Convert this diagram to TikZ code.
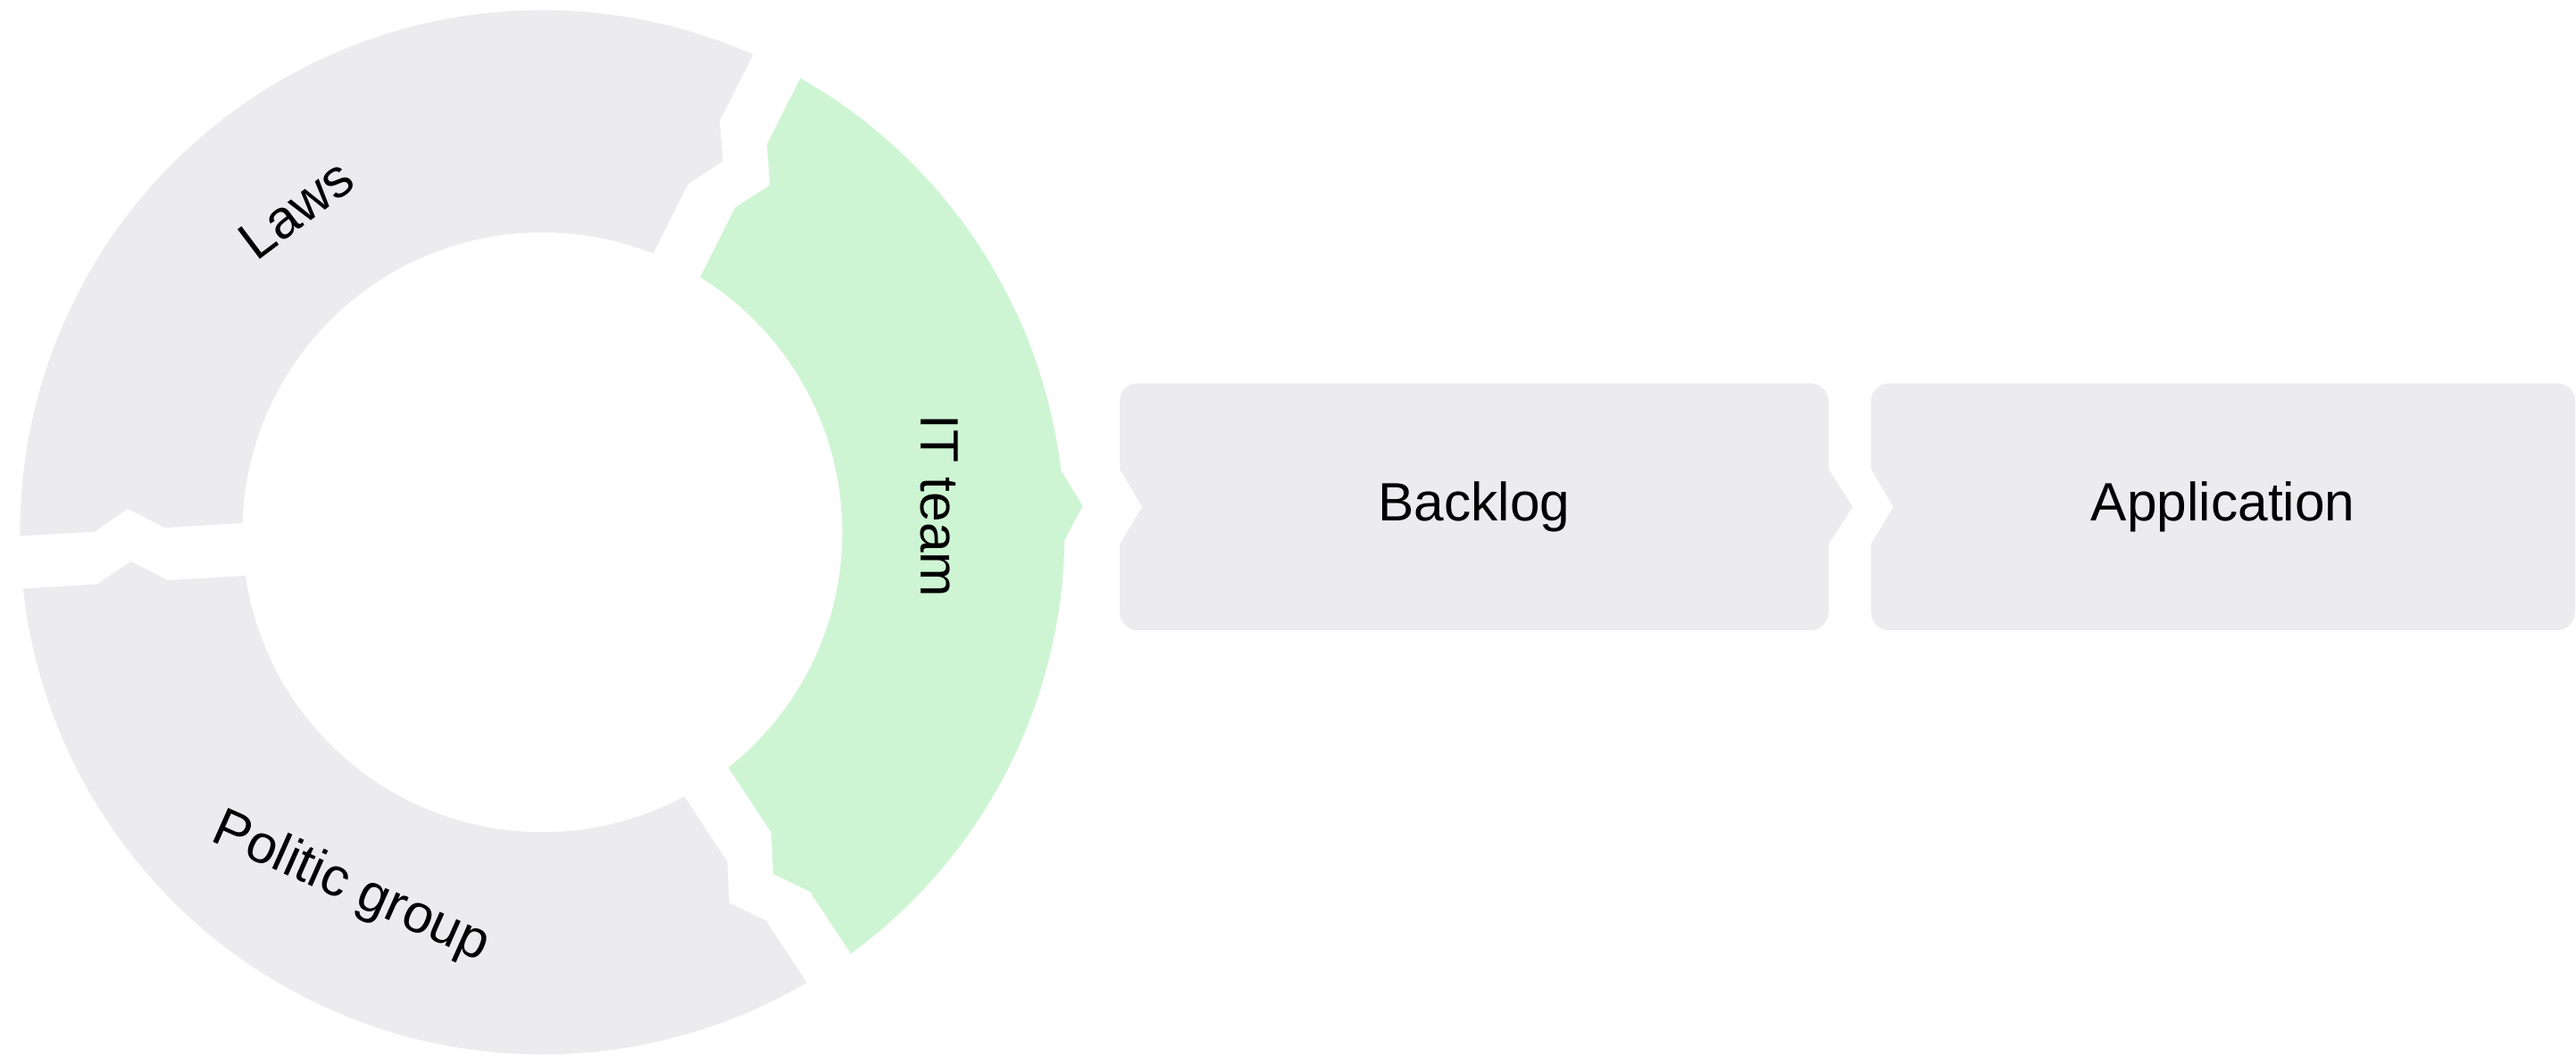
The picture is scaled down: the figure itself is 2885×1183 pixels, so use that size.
\documentclass[tikz,border=0pt]{standalone}
\usepackage{fontspec}
\setmainfont{Liberation Sans}
\usetikzlibrary{calc}
\definecolor{partgray}{RGB}{236,236,238}
\definecolor{partgreen}{RGB}{206,245,211}

\begin{document}
\begin{tikzpicture}
  [x=0.01cm,y=0.01cm,
   lbl/.style={font=\fontsize{17.2}{20}\selectfont,inner sep=0pt,text=black}]
  \useasboundingbox (0,0) rectangle (2885,1183);

  % ring of three parts, gaps shaped as arrows going clockwise
  \begin{scope}[shift={(607.4,586.7)}]
    \foreach \a/\b in {183.3/63.3,-56.7/-176.7}
      \fill[partgray] ([rotate=\a]584.3,-29.5) arc[start angle=\a-2.89,end angle=\b+2.89,radius=585]
        -- ([rotate=\b]501,29.5) -- ([rotate=\b]462,6) -- ([rotate=\b]422,29.5) -- ([rotate=\b]334.7,29.5)
        arc[start angle=\b+5.04,end angle=\a-5.04,radius=336]
        -- ([rotate=\a]422,-29.5) -- ([rotate=\a]462,-53) -- ([rotate=\a]501,-29.5) -- cycle;

    % IT team, pointing at the backlog
    \fill[partgreen] ([rotate=63.3]584.3,-29.5) arc[start angle=60.41,end angle=6.8,radius=585]
      -- (605.1,29.3) -- (-0.85:585) arc[start angle=-0.85,end angle=-53.81,radius=585]
      -- ([rotate=-56.7]501,29.5) -- ([rotate=-56.7]462,6) -- ([rotate=-56.7]422,29.5) -- ([rotate=-56.7]334.7,29.5)
      arc[start angle=-51.66,end angle=58.26,radius=336]
      -- ([rotate=63.3]422,-29.5) -- ([rotate=63.3]462,-53) -- ([rotate=63.3]501,-29.5) -- cycle;

    \node[lbl,rotate=37] (laws) at (127.3:455) {Laws};
    \node[lbl,rotate=-90] (it) at (3.8:446) {IT team};
    \node[lbl,rotate=-24] (pol) at (-118.3:453) {Politic group};
  \end{scope}

  % steps
  \foreach \cx/\hw/\tip/\nm/\txt in {1651/396.9/27/backlog/Backlog,2489.7/394.3/0/app/Application}{
    \fill[partgray,shift={(\cx,615.3)}] (-\hw,42) -- (-\hw,118.3) arc[start angle=180,end angle=90,radius=20]
      -- (\hw-20,138.3) arc[start angle=90,end angle=0,radius=20] -- (\hw,42) -- (\hw+\tip,0) -- (\hw,-42)
      -- (\hw,-118.3) arc[start angle=0,end angle=-90,radius=20] -- (-\hw+20,-138.3)
      arc[start angle=-90,end angle=-180,radius=20] -- (-\hw,-42) -- (-\hw+25,0) -- cycle;
    \node[lbl] (\nm) at (\cx,615.3) {\txt};
  }

\end{tikzpicture}
\end{document}
